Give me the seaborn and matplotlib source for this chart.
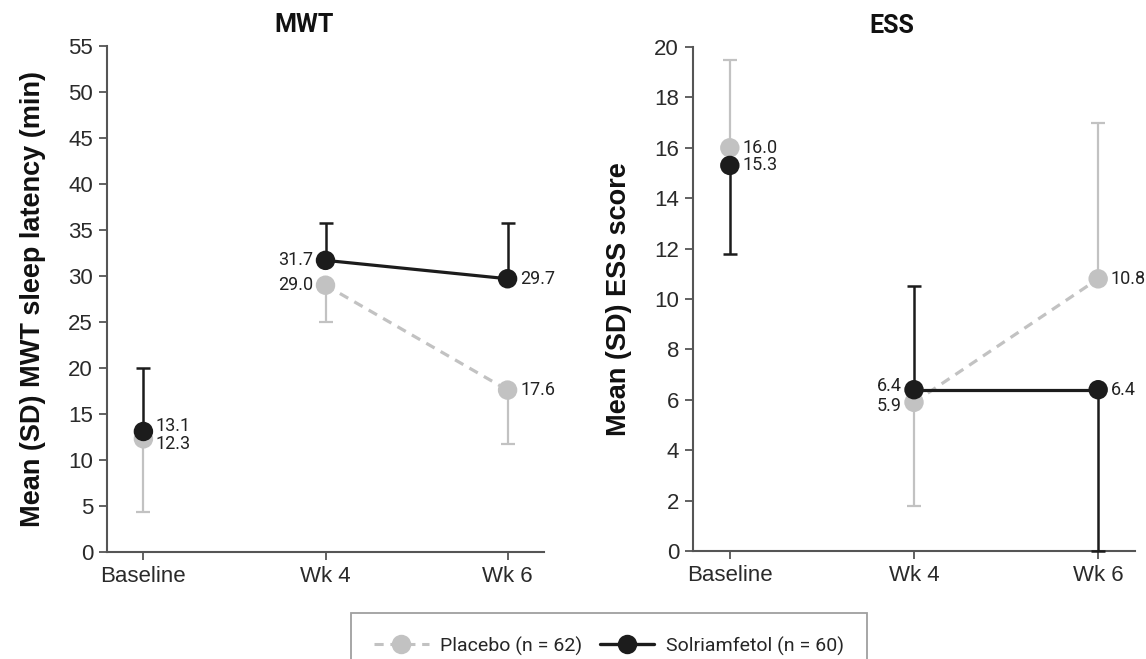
import matplotlib
matplotlib.use("Agg")
import matplotlib.pyplot as plt
import matplotlib.font_manager as fm
import numpy as np
import pandas as pd
import seaborn as sns
from matplotlib.lines import Line2D

# ---------------- data ----------------
visits = ["Baseline", "Wk 4", "Wk 6"]
groups = ["Placebo (n = 62)", "Solriamfetol (n = 60)"]
connected_visits = ["Wk 4", "Wk 6"]

mwt_placebo = [12.3, 29.0, 17.6]
mwt_placebo_sd = [7.9, 4.0, 5.9]
mwt_placebo_dir = [-1, -1, -1]
mwt_solri = [13.1, 31.7, 29.7]
mwt_solri_sd = [6.9, 4.1, 6.1]
mwt_solri_dir = [1, 1, 1]

ess_placebo = [16.0, 5.9, 10.8]
ess_placebo_sd = [3.5, 4.1, 6.2]
ess_placebo_dir = [1, -1, 1]
ess_solri = [15.3, 6.4, 6.4]
ess_solri_sd = [3.5, 4.1, 6.4]
ess_solri_dir = [-1, 1, -1]

mwt_yticks = list(range(0, 56, 5))
ess_yticks = list(range(0, 21, 2))

# ---------------- style ----------------
sns.set_theme(style="ticks")
avail = {f.name for f in fm.fontManager.ttflist}
narrow = "Liberation Sans Narrow" if "Liberation Sans Narrow" in avail else "Roboto"
plt.rcParams["font.family"] = ["Liberation Sans", "DejaVu Sans"]

PLACEBO_C = "#c2c2c2"
SOLRI_C = "#1c1c1c"
SPINE_C = "#555555"
MS = 14

fig = plt.figure(figsize=(11.46, 6.59), dpi=100)
W, H = 1146, 659
ax1 = fig.add_axes([107 / W, 1 - 552 / H, (544 - 107) / W, (552 - 46) / H])
ax2 = fig.add_axes([693 / W, 1 - 551 / H, (1135 - 693) / W, (551 - 47) / H])


def build_df(pl, so):
    rows = []
    for g, vals in zip(groups, [pl, so]):
        for i, v in enumerate(vals):
            rows.append({"x": i, "visit": visits[i], "value": v, "group": g})
    return pd.DataFrame(rows)


def draw(ax, pl, pl_sd, pl_dir, so, so_sd, so_dir, yticks, title, ylabel, label_cfg):
    df = build_df(pl, so)
    x = np.arange(len(visits))
    pal = {groups[0]: PLACEBO_C, groups[1]: SOLRI_C}
    # one-sided SD error bars
    ax.errorbar(x, pl, yerr=[[s if d < 0 else 0 for s, d in zip(pl_sd, pl_dir)],
                             [s if d > 0 else 0 for s, d in zip(pl_sd, pl_dir)]],
                fmt="none", ecolor=PLACEBO_C, elinewidth=1.6, capsize=5, capthick=1.6, zorder=2)
    ax.errorbar(x, so, yerr=[[s if d < 0 else 0 for s, d in zip(so_sd, so_dir)],
                             [s if d > 0 else 0 for s, d in zip(so_sd, so_dir)]],
                fmt="none", ecolor=SOLRI_C, elinewidth=1.8, capsize=5, capthick=1.8, zorder=4,
                clip_on=False)
    # connecting lines only between Wk 4 and Wk 6
    sub = df[df["visit"].isin(connected_visits)]
    sns.lineplot(data=sub, x="x", y="value", hue="group", style="group", palette=pal,
                 dashes={groups[0]: (3, 2.2), groups[1]: ""}, linewidth=2.3,
                 ax=ax, legend=False, zorder=3)
    # markers
    sns.scatterplot(data=df, x="x", y="value", hue="group", palette=pal, s=MS ** 2,
                    linewidth=0, ax=ax, legend=False, zorder=5)
    for gi, vals in enumerate([pl, so]):
        for i, v in enumerate(vals):
            dx, dy, ha = label_cfg[gi][i]
            ax.annotate(f"{v:.1f}", (i, v), xytext=(dx, dy), textcoords="offset points",
                        ha=ha, va="center", fontsize=13, color="#222222",
                        family=[narrow, "DejaVu Sans"], zorder=6)
    ax.set_xlim(-0.2, 2.2)
    ax.set_ylim(yticks[0], yticks[-1])
    ax.set_xticks(x)
    ax.set_xticklabels(visits)
    ax.set_yticks(yticks)
    ax.set_xlabel("")
    ax.set_ylabel(ylabel, fontsize=19.5, fontweight="bold", color="#111111", labelpad=16)
    ax.set_title(title, fontsize=18, fontweight="bold", x=0.45, pad=10,
                 family=[narrow, "DejaVu Sans"], color="#111111")
    sns.despine(ax=ax)
    for s in ["left", "bottom"]:
        ax.spines[s].set_color(SPINE_C)
        ax.spines[s].set_linewidth(1.5)
    ax.tick_params(axis="both", direction="out", length=6, width=1.3, color=SPINE_C,
                   labelsize=16, labelcolor="#2a2a2a", pad=4)


R, L = 9, -9
mwt_labels = [
    [(R, -4, "left"), (L, 0, "right"), (R, 0, "left")],   # placebo
    [(R, 4, "left"), (L, 0, "right"), (R, 0, "left")],    # solriamfetol
]
ess_labels = [
    [(R, 0, "left"), (L, -3, "right"), (R, 0, "left")],
    [(R, 0, "left"), (L, 3, "right"), (R, 0, "left")],
]

draw(ax1, mwt_placebo, mwt_placebo_sd, mwt_placebo_dir, mwt_solri, mwt_solri_sd, mwt_solri_dir,
     mwt_yticks, "MWT", "Mean (SD) MWT sleep latency (min)", mwt_labels)
draw(ax2, ess_placebo, ess_placebo_sd, ess_placebo_dir, ess_solri, ess_solri_sd, ess_solri_dir,
     ess_yticks, "ESS", "Mean (SD) ESS score", ess_labels)

# legend
handles = [
    Line2D([], [], color=PLACEBO_C, linestyle=(0, (3, 2.2)), linewidth=2.2, marker="o",
           markersize=MS, markeredgewidth=0),
    Line2D([], [], color=SOLRI_C, linestyle="-", linewidth=2.4, marker="o",
           markersize=MS, markeredgewidth=0),
]
leg = fig.legend(handles, groups, loc="upper center", bbox_to_anchor=(609 / W, 1 - 613 / H),
                 ncol=2, frameon=True, fancybox=False, edgecolor="#888888",
                 borderpad=1.2, borderaxespad=0, handlelength=2.8, columnspacing=0.9,
                 handletextpad=0.6, prop={"family": [narrow, "DejaVu Sans"], "size": 14})
leg.get_frame().set_linewidth(1.3)

fig.savefig("out.png", dpi=100)
